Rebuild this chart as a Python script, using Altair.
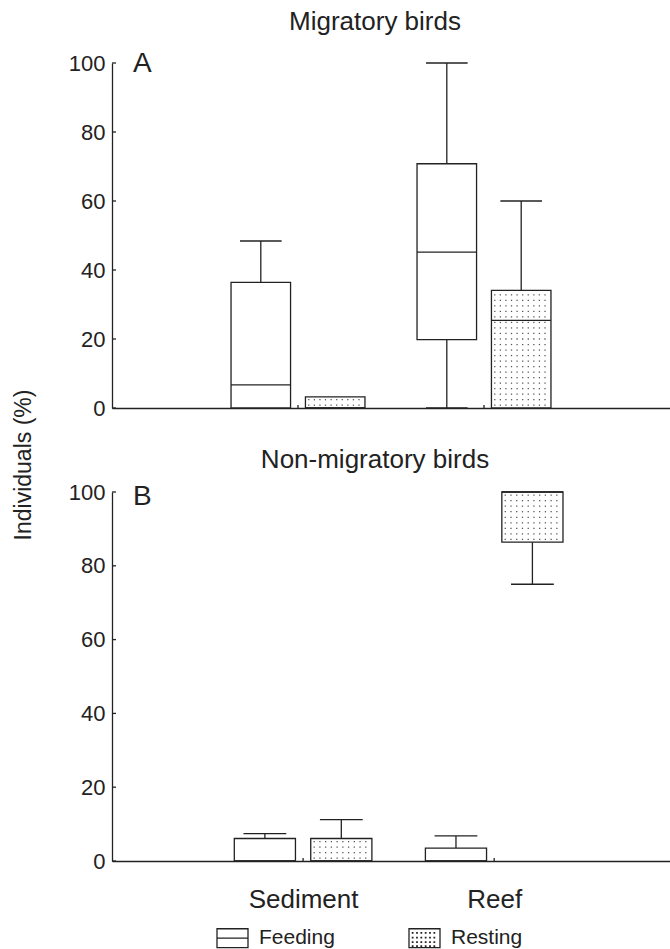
import altair as alt
import pandas as pd
import numpy as np

FONT = "Liberation Sans"
INK = "#222222"

groups = ["Sediment", "Reef"]
activities = ["Feeding", "Resting"]

# order of rows: Sediment-Feeding, Sediment-Resting, Reef-Feeding, Reef-Resting
mig_min = [0, 0, 0, 0]
mig_q1 = [0, 0, 19.8, 0]
mig_med = [6.7, 0, 45.2, 25.4]
mig_q3 = [36.4, 3.2, 70.8, 34.1]
mig_max = [48.4, 3.2, 100, 60]

non_min = [0, 0, 0, 75]
non_q1 = [0, 0, 0, 86.4]
non_med = [0, 0, 0, 100]
non_q3 = [6.1, 6.1, 3.5, 100]
non_max = [7.4, 11.2, 6.8, 100]

y_ticks = [0, 20, 40, 60, 80, 100]

OFFSET = {"Feeding": -0.2, "Resting": 0.2}
HALF_BOX = 0.16
HALF_CAP = 0.112


def box_table(mn, q1, med, q3, mx):
    rows = []
    i = 0
    for gi, g in enumerate(groups, start=1):
        for a in activities:
            xc = gi + OFFSET[a]
            rows.append(dict(group=g, activity=a, xc=xc, xl=xc - HALF_BOX, xr=xc + HALF_BOX,
                             cl=xc - HALF_CAP, cr=xc + HALF_CAP,
                             mn=mn[i], q1=q1[i], med=med[i], q3=q3[i], mx=mx[i]))
            i += 1
    return pd.DataFrame(rows)


def dot_table(df, dx, dy):
    pts = []
    for _, r in df[df.activity == "Resting"].iterrows():
        if r.q3 - r.q1 <= 0:
            continue
        for x in np.arange(r.xl + dx * 0.6, r.xr - dx * 0.2, dx):
            for y in np.arange(r.q1 + dy * 0.5, r.q3 - dy * 0.2, dy):
                pts.append(dict(x=x, y=y))
    return pd.DataFrame(pts)


def legend_paths():
    f = "M-1,-0.61H1V0.61H-1Z M-1,0H1"
    r = "M-1,-0.61H1V0.61H-1Z"
    for yy in [-0.36, -0.06, 0.24, 0.5]:
        for xx in [-0.78, -0.5, -0.22, 0.06, 0.34, 0.62]:
            r += f" M{xx:.2f},{yy:.2f}h0.03v0.03h-0.03Z"
    return [f, r]


def panel(df, title, label, xmax, height, dy, bottom, ytitle, toff, lab_y):
    width = 558
    xs = alt.Scale(domain=[0, xmax], nice=False, zero=False)
    ys = alt.Scale(domain=[0, 100], nice=False, zero=False)
    if bottom:
        xaxis = alt.Axis(values=[1, 2], ticks=False, tickSize=0, grid=False, domainColor=INK,
                         domainWidth=1.3, labelFontSize=26, labelFont=FONT, labelColor=INK,
                         labelBaseline="alphabetic", labelPadding=46,
                         labelExpr=f"['{groups[0]}','{groups[1]}'][datum.value - 1]",
                         title=None)
    else:
        xaxis = alt.Axis(labels=False, ticks=False, grid=False, domainColor=INK,
                         domainWidth=1.3, title=None)
    if ytitle:
        yaxis = alt.Axis(values=y_ticks, ticks=False, grid=False, domainColor=INK, domainWidth=1.3,
                         labelFontSize=22, labelFont=FONT, labelColor=INK, labelPadding=7,
                         title="Individuals (%)", titleFont=FONT, titleFontSize=23,
                         titleFontWeight="normal", titleColor=INK, titleAngle=270,
                         titleAlign="center", titleBaseline="alphabetic",
                         titleX=-82, titleY=401.5)
    else:
        yaxis = alt.Axis(values=y_ticks, ticks=False, grid=False, domainColor=INK, domainWidth=1.3,
                         labelFontSize=22, labelFont=FONT, labelColor=INK, labelPadding=7,
                         title=None)

    def X(f):
        return alt.X(f, type="quantitative", scale=xs, axis=xaxis)

    def Y(f):
        return alt.Y(f, type="quantitative", scale=ys, axis=yaxis)

    base = alt.Chart(df)
    line = dict(color=INK, strokeWidth=1.3)

    box = base.mark_rect(fill="white", stroke=INK, strokeWidth=1.3).encode(
        x=X("xl"), x2="xr", y=Y("q1"), y2="q3")
    w_up = base.transform_filter("datum.mx > datum.q3").mark_rule(**line).encode(
        x=X("xc"), y=Y("q3"), y2="mx")
    c_up = base.transform_filter("datum.mx > datum.q3").mark_rule(**line).encode(
        x=X("cl"), x2="cr", y=Y("mx"))
    w_lo = base.transform_filter("datum.mn < datum.q1").mark_rule(**line).encode(
        x=X("xc"), y=Y("mn"), y2="q1")
    c_lo = base.transform_filter("datum.mn < datum.q1").mark_rule(**line).encode(
        x=X("cl"), x2="cr", y=Y("mn"))
    med = base.mark_rule(**line).encode(x=X("xl"), x2="xr", y=Y("med"))
    dots = alt.Chart(dot_table(df, 0.03, dy)).mark_square(size=1.6, color="#555555", opacity=1).encode(
        x=X("x"), y=Y("y"))

    ytk = alt.Chart(pd.DataFrame({"v": y_ticks})).mark_rule(**line).encode(
        x=alt.value(0), x2=alt.value(4), y=Y("v"))
    xtk = alt.Chart(pd.DataFrame({"g": [1, 2]})).mark_rule(**line).encode(
        x=X("g"), y=alt.value(height), y2=alt.value(height - 3))
    lab = alt.Chart(pd.DataFrame({"label": [label]})).mark_text(
        fontSize=28, font=FONT, color=INK, align="left", baseline="alphabetic").encode(
        x=alt.value(21), y=alt.value(lab_y), text="label:N")

    layers = [box, dots, w_up, c_up, w_lo, c_lo, med, ytk, xtk, lab]
    if bottom:
        leg = alt.Chart(pd.DataFrame({"activity": activities, "xv": [1, 2], "yv": [-20, -20]})).mark_point(
            filled=False, color=INK, strokeWidth=1.3, opacity=1, clip=True).encode(
            x=X("xv"), y=Y("yv"),
            shape=alt.Shape("activity:N",
                            scale=alt.Scale(domain=activities, range=legend_paths()),
                            legend=alt.Legend(orient="none", legendX=104, legendY=858.5,
                                              direction="horizontal",
                                              title=None, labelFontSize=21, labelFont=FONT, labelColor=INK,
                                              labelOffset=10, symbolSize=961, symbolStrokeWidth=1.3,
                                              symbolStrokeColor=INK, symbolOpacity=1,
                                              columnPadding=71, padding=0)))
        layers.append(leg)

    return alt.layer(*layers).properties(
        width=width, height=height,
        title=alt.TitleParams(title, fontSize=26, font=FONT, fontWeight="normal", color=INK,
                              anchor="middle", dx=-16, baseline="alphabetic", offset=toff))


dfA = box_table(mig_min, mig_q1, mig_med, mig_q3, mig_max)
dfB = box_table(non_min, non_q1, non_med, non_q3, non_max)

pA = panel(dfA, "Migratory birds", "A", 3.0, 345, 1.6, False, True, -6, 9)
pB = panel(dfB, "Non-migratory birds", "B", 2.92, 369, 1.5, True, False, -13, 13)

chart = alt.vconcat(pA, pB, spacing=84, bounds="flush").properties(
    padding={"left": 12, "top": 9, "right": 0, "bottom": 0},
    background="white",
).configure_view(strokeWidth=0, stroke="transparent")

chart.save("out.html", embed_options={"renderer": "svg", "actions": False})
